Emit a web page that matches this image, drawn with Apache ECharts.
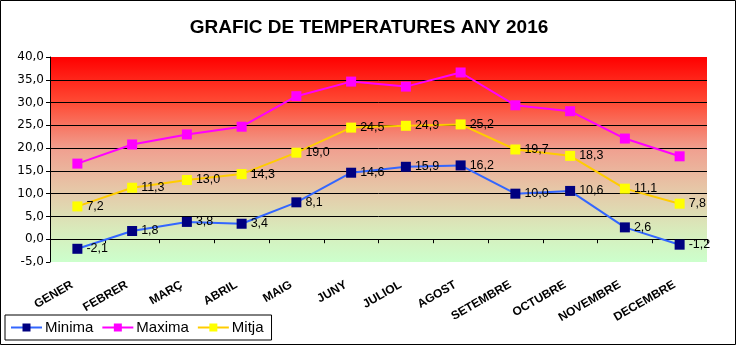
<!DOCTYPE html>
<html>
<head>
<meta charset="utf-8">
<script src="https://cdn.jsdelivr.net/npm/echarts@6/dist/echarts.min.js"></script>
<style>
  html, body { margin: 0; padding: 0; background: #fff; }
  #chart { width: 738px; height: 347px; }
</style>
</head>
<body>
<div id="chart"></div>
<script>
const months = ['GENER', 'FEBRER', 'MARÇ', 'ABRIL', 'MAIG', 'JUNY', 'JULIOL', 'AGOST', 'SETEMBRE', 'OCTUBRE', 'NOVEMBRE', 'DECEMBRE'];
const minima = [-2.1, 1.8, 3.8, 3.4, 8.1, 14.6, 15.9, 16.2, 10.0, 10.6, 2.6, -1.2];
const maxima = [16.6, 20.8, 23.0, 24.7, 31.4, 34.6, 33.5, 36.6, 29.4, 28.1, 22.1, 18.2];
const mitja = [7.2, 11.3, 13.0, 14.3, 19.0, 24.5, 24.9, 25.2, 19.7, 18.3, 11.1, 7.8];

const comma = v => v.toFixed(1).replace('.', ',');

let chart = echarts.init(document.getElementById('chart'));

const font = 'Liberation Sans, Arial, sans-serif';
const wideFont = 'DejaVu Sans, sans-serif';

function lineSeries(name, data, lineColor, markColor, withLabels) {
  return {
    name: name,
    type: 'line',
    data: data,
    xAxisIndex: 0,
    symbol: 'rect',
    symbolSize: 10,
    lineStyle: { color: lineColor, width: 2 },
    itemStyle: { color: markColor },
    emphasis: { disabled: true },
    animation: false,
    label: {
      show: withLabels,
      position: 'right',
      distance: 4,
      color: '#000',
      fontFamily: font,
      fontSize: 12.5,
      formatter: p => comma(p.value)
    }
  };
}

chart.setOption({
  backgroundColor: '#fff',
  title: {
    text: 'GRAFIC DE TEMPERATURES ANY 2016',
    left: 'center',
    top: 13,
    textStyle: { fontFamily: font, fontSize: 19, fontWeight: 'bold', color: '#000' }
  },
  graphic: [{
    type: 'rect',
    shape: { x: 0.5, y: 0.5, width: 735, height: 344 },
    style: { fill: 'none', stroke: '#000', lineWidth: 1 },
    z: 100
  }],
  legend: {
    left: 5,
    top: 315,
    orient: 'horizontal',
    borderColor: '#000',
    borderWidth: 1,
    padding: [5, 8, 5, 5],
    itemWidth: 31,
    itemHeight: 10,
    itemGap: 8,
    textStyle: { fontFamily: font, fontSize: 15, color: '#000', padding: [0, 0, 0, -2] },
    data: ['Minima', 'Maxima', 'Mitja']
  },
  grid: {
    left: 50,
    right: 31,
    top: 57,
    bottom: 85,
    show: true,
    borderWidth: 0,
    backgroundColor: new echarts.graphic.LinearGradient(0, 0, 0, 1, [
      { offset: 0, color: '#ff0000' },
      { offset: 0.22, color: '#ff4a34' },
      { offset: 0.45, color: '#f0a090' },
      { offset: 0.65, color: '#e6c8a8' },
      { offset: 0.85, color: '#d8ecbc' },
      { offset: 1, color: '#ccffcc' }
    ])
  },
  xAxis: [{
    type: 'category',
    data: months,
    position: 'bottom',
    boundaryGap: true,
    axisLine: { show: false, onZero: false },
    axisTick: { show: false },
    splitLine: { show: false },
    axisLabel: {
      rotate: 30,
      margin: 19,
      interval: 0,
      padding: [0, 6, 0, 0],
      color: '#000',
      fontFamily: font,
      fontSize: 12,
      fontWeight: 'bold'
    }
  }, {
    type: 'category',
    data: months,
    position: 'bottom',
    boundaryGap: true,
    axisLine: { show: true, onZero: true, lineStyle: { color: '#000', width: 1 } },
    axisTick: { show: true, length: 4, interval: 0, lineStyle: { color: '#000' } },
    axisLabel: { show: false },
    splitLine: { show: false }
  }],
  yAxis: {
    type: 'value',
    min: -5,
    max: 40,
    interval: 5,
    axisLine: { show: true, lineStyle: { color: '#000', width: 1 } },
    axisTick: { show: true, length: 4, lineStyle: { color: '#000' } },
    axisLabel: {
      margin: 6,
      color: '#000',
      fontFamily: wideFont,
      fontSize: 12,
      formatter: v => comma(v)
    },
    splitLine: { show: true, showMinLine: false, showMaxLine: false, lineStyle: { color: '#000', width: 1 } }
  },
  series: [
    lineSeries('Minima', minima, '#3366ff', '#000080', true),
    lineSeries('Maxima', maxima, '#ff00ff', '#ff00ff', false),
    lineSeries('Mitja', mitja, '#ffcc00', '#ffff00', true)
  ]
});
</script>
</body>
</html>
